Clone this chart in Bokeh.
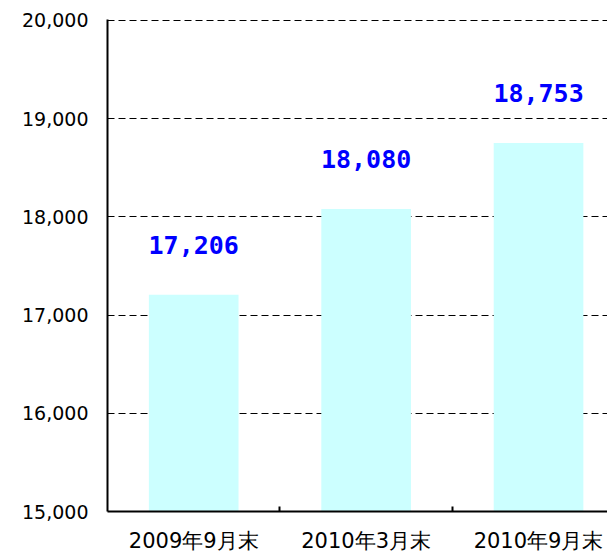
from bokeh.plotting import figure
from bokeh.models import Range1d, FixedTicker, NumeralTickFormatter, ColumnDataSource, LabelSet
from bokeh.core.properties import value
from bokeh.embed import file_html
from bokeh.resources import INLINE

categories = ["2009年9月末", "2010年3月末", "2010年9月末"]
values = [17206, 18080, 18753]
labels = ["17,206", "18,080", "18,753"]
y_ticks = [15000, 16000, 17000, 18000, 19000, 20000]

xs = [i + 0.5 for i in range(len(categories))]
src = ColumnDataSource(dict(x=xs, top=values, label=labels))

p = figure(width=607, height=555, output_backend="svg", toolbar_location=None,
           x_range=Range1d(0, 2.9), y_range=Range1d(y_ticks[0], y_ticks[-1] + 10),
           min_border_left=107, min_border_right=0, min_border_top=19, min_border_bottom=44)
p.outline_line_color = None
p.background_fill_color = "white"

p.vbar(x="x", top="top", bottom=y_ticks[0], width=0.52, source=src,
       fill_color="#CCFFFF", line_color=None)

p.add_layout(LabelSet(x="x", y="top", text="label", source=src, text_align="center",
                      text_baseline="alphabetic", y_offset=41, text_color="#0000FF",
                      text_font=value("DejaVu Sans Mono"), text_font_style="bold",
                      text_font_size="25px"))

xa = p.xaxis[0]
xa.ticker = FixedTicker(ticks=xs, minor_ticks=[1, 2])
xa.major_label_overrides = {x: c for x, c in zip(xs, categories)}
xa.major_label_text_font = "DejaVu Sans"
xa.major_label_text_font_size = "21px"
xa.major_label_text_color = "black"
xa.major_label_standoff = 17
xa.major_tick_in = 0
xa.major_tick_out = 0
xa.minor_tick_in = 5
xa.minor_tick_out = 0
xa.minor_tick_line_width = 2
xa.minor_tick_line_color = "black"
xa.axis_line_width = 2
xa.axis_line_color = "black"

ya = p.yaxis[0]
ya.ticker = FixedTicker(ticks=y_ticks)
ya.formatter = NumeralTickFormatter(format="0,0")
ya.major_tick_in = 0
ya.major_tick_out = 0
ya.minor_tick_in = 0
ya.minor_tick_out = 0
ya.axis_line_width = 2
ya.axis_line_color = "black"
ya.major_label_text_font = "DejaVu Sans"
ya.major_label_text_font_size = "19px"
ya.major_label_text_color = "black"
ya.major_label_standoff = 19

p.xgrid.grid_line_color = None
p.ygrid.grid_line_color = "black"
p.ygrid.grid_line_dash = "7 4"
p.ygrid.grid_line_width = 1

open("out.html", "w").write(file_html(p, INLINE))
